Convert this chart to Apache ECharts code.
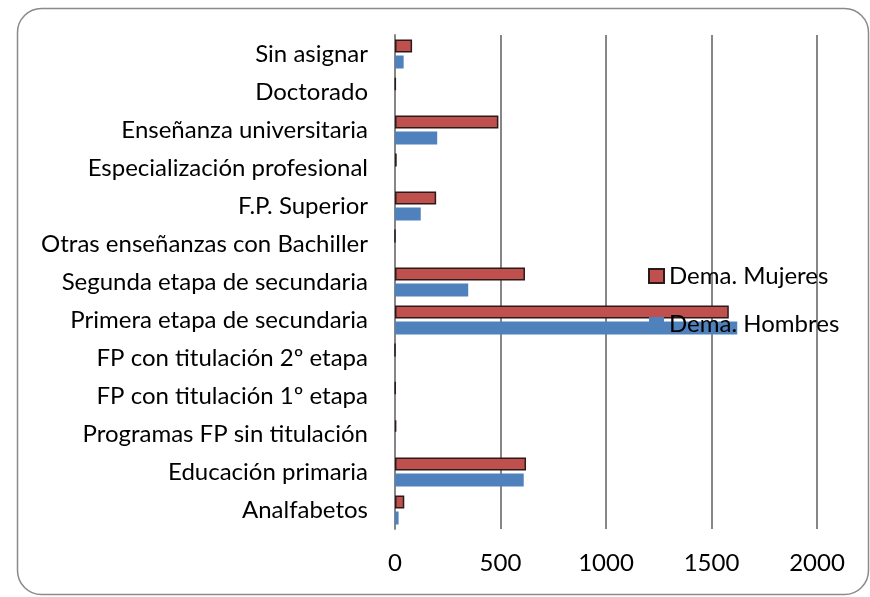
<!DOCTYPE html>
<html>
<head>
<meta charset="utf-8">
<script src="https://cdn.jsdelivr.net/npm/echarts@6/dist/echarts.min.js"></script>
<style>
  html, body { margin: 0; padding: 0; background: #fff; }
  #main { width: 870px; height: 597px; }
</style>
</head>
<body>
<div id="main"></div>
<script>
// categorias de abajo hacia arriba (eje de categorias de echarts empieza abajo)
var categorias = [
  'Analfabetos',
  'Educación primaria',
  'Programas FP sin titulación',
  'FP con titulación 1º etapa',
  'FP con titulación 2º etapa',
  'Primera etapa de secundaria',
  'Segunda etapa de secundaria',
  'Otras enseñanzas con Bachiller',
  'F.P. Superior',
  'Especialización profesional',
  'Enseñanza universitaria',
  'Doctorado',
  'Sin asignar'
];
var mujeres = [44, 621, 6, 2, 0, 1582, 616, 0, 195, 8, 490, 3, 81];
var hombres = [17, 610, 1, 0, 0, 1622, 347, 0, 122, 0, 200, 0, 41];
var ejeX = [0, 500, 1000, 1500, 2000];

var fuente = 'Lato';
var tam = 24;
var myChart = echarts.init(document.getElementById('main'));
var option = {
  animation: false,
  backgroundColor: '#fff',
  textStyle: { fontFamily: fuente },
  graphic: [{
    type: 'rect',
    shape: { x: 17.5, y: 8.5, width: 851, height: 586, r: 24 },
    style: { fill: 'none', stroke: '#8a8a8a', lineWidth: 1.5 },
    silent: true,
    z: -1
  }],
  grid: {
    left: 395,
    right: 53,
    top: 35,
    bottom: 68,
    outerBoundsMode: 'none'
  },
  legend: {
    orient: 'vertical',
    left: 648,
    top: 264,
    padding: 0,
    itemWidth: 15,
    itemHeight: 14,
    itemGap: 24,
    icon: 'rect',
    data: ['Dema. Mujeres', 'Dema. Hombres'],
    textStyle: { fontFamily: fuente, fontSize: tam, color: '#000' }
  },
  xAxis: {
    type: 'value',
    min: ejeX[0],
    max: ejeX[ejeX.length - 1],
    interval: 500,
    axisLine: { show: false },
    axisTick: { show: false },
    splitLine: { lineStyle: { color: '#868686', width: 2 } },
    axisLabel: {
      margin: 22, fontSize: tam, color: '#000', fontFamily: fuente,
      formatter: function (v) { return String(v); }
    }
  },
  yAxis: {
    type: 'category',
    data: categorias,
    axisLine: { lineStyle: { color: '#868686', width: 2 } },
    axisTick: { show: false },
    axisLabel: { margin: 27, fontSize: tam, color: '#000', fontFamily: fuente }
  },
  series: [
    {
      name: 'Dema. Mujeres',
      type: 'bar',
      data: mujeres,
      barWidth: 13,
      barGap: '23%',
      itemStyle: { color: '#C0504D', borderColor: '#2a1a1a', borderWidth: 1.5 }
    },
    {
      name: 'Dema. Hombres',
      type: 'bar',
      data: hombres,
      barWidth: 13,
      barGap: '23%',
      itemStyle: { color: '#4F81BD' }
    }
  ]
};
myChart.setOption(option);
</script>
</body>
</html>
